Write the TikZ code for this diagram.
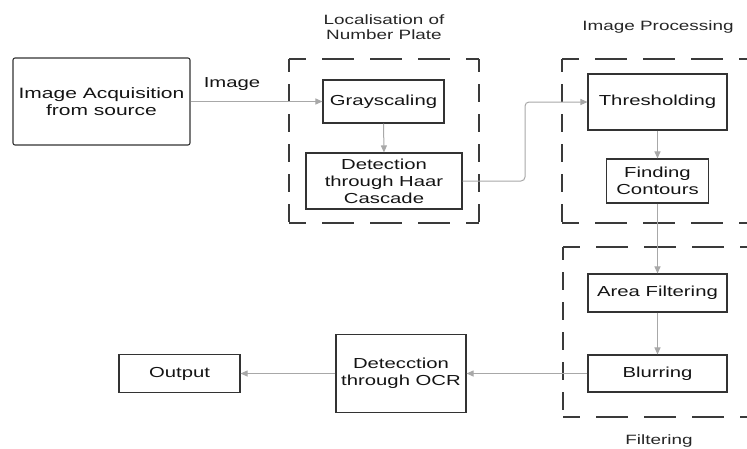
\documentclass[tikz,border=0pt]{standalone}
\usepackage{fontspec}
\setmainfont[FakeStretch=1.4]{Liberation Sans}
\usetikzlibrary{arrows.meta}
\definecolor{boxc}{HTML}{333333}
\definecolor{dashc}{HTML}{3A3A3A}
\definecolor{arrc}{HTML}{A8A8A8}
\begin{document}
\begin{tikzpicture}[x=1pt,y=-1pt,
  every node/.style={font=\fontsize{14.5}{17}\selectfont, text=black!92},
  stepbox/.style={draw=boxc, line width=1.1pt, inner sep=0pt, align=center},
  title/.style={font=\fontsize{13.5}{15.5}\selectfont, align=center, text=black!85},
  conn/.style={draw=arrc, line width=1pt, -{Triangle[length=7pt,width=6pt]}},
  hd/.style={draw=dashc, line width=1.5pt, dash pattern=on 32pt off 16pt, dash phase=15pt},
  vd/.style={draw=dashc, line width=1.5pt, dash pattern=on 18pt off 12pt, dash phase=5pt}]
\clip (0,0) rectangle (747,448);
% dashed group boxes
\draw[hd] (289,59) -- (479,59);
\draw[hd] (289,223) -- (479,223);
\draw[vd] (289,59) -- (289,223);
\draw[vd] (479,59) -- (479,223);
\draw[hd] (562,59) -- (760,59);
\draw[hd] (562,223) -- (760,223);
\draw[vd] (562,59) -- (562,223);
\draw[hd] (563,247) -- (760,247);
\draw[hd] (563,417) -- (760,417);
\draw[vd] (563,247) -- (563,417);
% titles
\node[title] (tloc) at (384,27) {Localisation of\\Number Plate};
\node[title] (tproc) at (658,27) {Image Processing};
\node[title] (tfilt) at (659,441) {Filtering};
% boxes
\node[stepbox, rounded corners=2pt, minimum width=177pt, minimum height=87pt, font=\fontsize{15}{17.5}\selectfont] (acq) at (101.5,101.5) {Image Acquisition\\from source};
\node[stepbox, minimum width=121pt, minimum height=43pt] (gray) at (383.5,101.5) {Grayscaling};
\node[stepbox, minimum width=156pt, minimum height=56pt] (haar) at (384,181) {Detection\\through Haar\\Cascade};
\node[stepbox, minimum width=139pt, minimum height=56pt] (thr) at (657.5,102) {Thresholding};
\node[stepbox, minimum width=102pt, minimum height=44pt] (cont) at (657.5,181) {Finding\\Contours};
\node[stepbox, minimum width=139pt, minimum height=38pt] (area) at (657.5,293) {Area Filtering};
\node[stepbox, minimum width=139pt, minimum height=37pt] (blur) at (657.5,373.5) {Blurring};
\node[stepbox, minimum width=130pt, minimum height=78pt] (ocr) at (401,373.5) {Detecction\\through OCR};
\node[stepbox, minimum width=121pt, minimum height=38pt] (out) at (179.5,373.5) {Output};
% label
\node (lbl) at (232,84) {Image};
% connectors
\draw[conn] (acq.east) -- (gray.west);
\draw[conn] (gray.south) -- (haar.north);
\draw[conn, rounded corners=4pt] (haar.east) -- (525,181) -- (525,102) -- (thr.west);
\draw[conn] (thr.south) -- (cont.north);
\draw[conn] (cont.south) -- (area.north);
\draw[conn] (area.south) -- (blur.north);
\draw[conn] (blur.west) -- (ocr.east);
\draw[conn] (ocr.west) -- (out.east);
\end{tikzpicture}
\end{document}
